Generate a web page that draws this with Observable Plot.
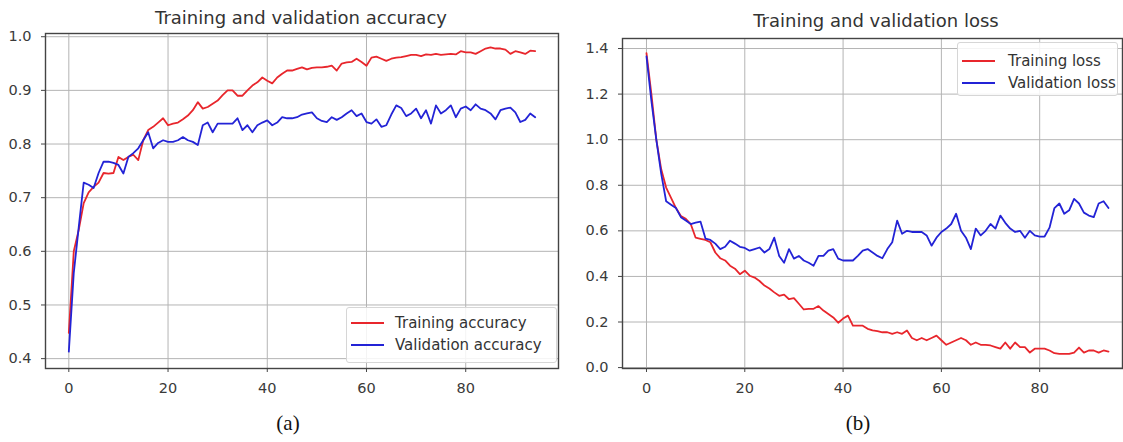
<!DOCTYPE html>
<html>
<head>
<meta charset="utf-8">
<script src="https://cdn.jsdelivr.net/npm/d3@7"></script>
<script src="https://cdn.jsdelivr.net/npm/@observablehq/plot@0.6"></script>
<style>
  html, body { margin: 0; padding: 0; background: #fff; overflow: hidden; }
  #wrap { position: relative; width: 1123px; height: 442px; font-family: "DejaVu Sans", sans-serif; color: #333; }
  .panel { position: absolute; top: 0; }
  .title { position: absolute; font-size: 18px; line-height: 18px; white-space: nowrap; transform: translateX(-50%); color: #333; }
  .caption { position: absolute; font-family: "Liberation Serif", "Times New Roman", serif; font-size: 21px; line-height: 21px; transform: translateX(-50%); color: #111; }
  .legend { position: absolute; background: rgba(255,255,255,0.85); border: 1px solid #d6d6d6; border-radius: 3px; box-sizing: border-box; }
  .legend .sw { position: absolute; height: 2px; }
  .legend .lab { position: absolute; transform: translateY(-50%); font-size: 15px; color: #333; white-space: nowrap; }
</style>
</head>
<body>
<div id="wrap"></div>
<script>
// ---- Data ----
const accTicksX = [0, 20, 40, 60, 80];
const accTicksY = [0.4, 0.5, 0.6, 0.7, 0.8, 0.9, 1.0];
const lossTicksY = [0.0, 0.2, 0.4, 0.6, 0.8, 1.0, 1.2, 1.4];

const trainingAccuracy = [
  0.448, 0.600, 0.640, 0.690, 0.710, 0.720, 0.728, 0.746, 0.745, 0.746,
  0.776, 0.770, 0.776, 0.780, 0.770, 0.807, 0.826, 0.832, 0.840, 0.848,
  0.835, 0.838, 0.840, 0.846, 0.853, 0.863, 0.878, 0.866, 0.869, 0.875,
  0.881, 0.891, 0.900, 0.900, 0.890, 0.890, 0.900, 0.909, 0.915, 0.924,
  0.918, 0.913, 0.924, 0.931, 0.937, 0.937, 0.940, 0.943, 0.939, 0.942,
  0.943, 0.943, 0.944, 0.946, 0.937, 0.950, 0.952, 0.953, 0.959, 0.953,
  0.946, 0.961, 0.963, 0.959, 0.955, 0.959, 0.961, 0.962, 0.964, 0.966,
  0.966, 0.964, 0.967, 0.966, 0.968, 0.966, 0.967, 0.968, 0.967, 0.973,
  0.971, 0.971, 0.968, 0.973, 0.978, 0.980, 0.978, 0.978, 0.976, 0.968,
  0.973, 0.971, 0.968, 0.974, 0.973
];
const validationAccuracy = [
  0.413, 0.560, 0.645, 0.728, 0.724, 0.718, 0.746, 0.767, 0.767, 0.765,
  0.761, 0.745, 0.776, 0.783, 0.792, 0.807, 0.822, 0.792, 0.802, 0.807,
  0.804, 0.804, 0.807, 0.813, 0.807, 0.804, 0.798, 0.835, 0.840, 0.822,
  0.838, 0.838, 0.838, 0.838, 0.848, 0.826, 0.835, 0.822, 0.835, 0.840,
  0.844, 0.835, 0.840, 0.850, 0.848, 0.848, 0.850, 0.855, 0.857, 0.859,
  0.848, 0.843, 0.841, 0.850, 0.845, 0.850, 0.857, 0.863, 0.852, 0.857,
  0.841, 0.838, 0.846, 0.832, 0.835, 0.855, 0.872, 0.867, 0.852, 0.857,
  0.866, 0.848, 0.863, 0.838, 0.872, 0.857, 0.863, 0.872, 0.850, 0.866,
  0.870, 0.863, 0.874, 0.866, 0.863, 0.857, 0.846, 0.863, 0.866, 0.868,
  0.859, 0.841, 0.845, 0.857, 0.850
];
const trainingLoss = [
  1.380, 1.200, 1.000, 0.870, 0.790, 0.745, 0.700, 0.665, 0.653, 0.630,
  0.570, 0.565, 0.560, 0.550, 0.505, 0.480, 0.470, 0.447, 0.434, 0.410,
  0.425, 0.403, 0.395, 0.380, 0.360, 0.347, 0.330, 0.315, 0.320, 0.300,
  0.305, 0.280, 0.255, 0.258, 0.258, 0.270, 0.250, 0.235, 0.220, 0.197,
  0.215, 0.228, 0.184, 0.184, 0.184, 0.170, 0.163, 0.160, 0.155, 0.155,
  0.148, 0.155, 0.148, 0.163, 0.130, 0.120, 0.130, 0.120, 0.130, 0.140,
  0.120, 0.100, 0.110, 0.120, 0.130, 0.120, 0.100, 0.110, 0.100, 0.100,
  0.097, 0.090, 0.083, 0.110, 0.083, 0.110, 0.090, 0.090, 0.066, 0.083,
  0.083, 0.083, 0.075, 0.063, 0.060, 0.060, 0.060, 0.066, 0.088, 0.066,
  0.075, 0.075, 0.066, 0.075, 0.070
];
const validationLoss = [
  1.365, 1.170, 1.000, 0.850, 0.730, 0.715, 0.700, 0.660, 0.645, 0.630,
  0.636, 0.640, 0.566, 0.560, 0.544, 0.520, 0.530, 0.557, 0.544, 0.530,
  0.525, 0.513, 0.520, 0.527, 0.505, 0.520, 0.570, 0.490, 0.460, 0.520,
  0.478, 0.490, 0.470, 0.460, 0.447, 0.490, 0.490, 0.513, 0.520, 0.478,
  0.470, 0.470, 0.470, 0.490, 0.513, 0.520, 0.505, 0.490, 0.480, 0.520,
  0.550, 0.645, 0.587, 0.600, 0.595, 0.595, 0.595, 0.580, 0.535, 0.570,
  0.595, 0.610, 0.630, 0.675, 0.600, 0.570, 0.520, 0.610, 0.580, 0.600,
  0.630, 0.610, 0.667, 0.635, 0.610, 0.595, 0.600, 0.570, 0.600, 0.580,
  0.575, 0.575, 0.614, 0.700, 0.720, 0.675, 0.690, 0.740, 0.720, 0.680,
  0.667, 0.660, 0.720, 0.730, 0.700
];

const RED = "#e8262c";
const BLUE = "#2323d6";
const GRID = "#b4b4b4";
const FRAME = "#444";
const TEXT = "#3a3a3a";

function makePanel({width, height, ml, mr, mt, mb, xDomain, yDomain, yTicks, series}) {
  return Plot.plot({
    width, height,
    marginLeft: ml, marginRight: mr, marginTop: mt, marginBottom: mb,
    style: {fontFamily: "DejaVu Sans, sans-serif", fontSize: "14.5px", color: TEXT, background: "transparent"},
    x: {domain: xDomain, ticks: accTicksX, label: null},
    y: {domain: yDomain, ticks: yTicks, label: null, tickFormat: d => d.toFixed(1)},
    marks: [
      Plot.gridX(accTicksX, {stroke: GRID, strokeOpacity: 1, strokeWidth: 1}),
      Plot.gridY(yTicks, {stroke: GRID, strokeOpacity: 1, strokeWidth: 1}),
      ...series.map(s => Plot.lineY(s.values, {stroke: s.color, strokeWidth: 1.8})),
      Plot.frame({stroke: FRAME, strokeWidth: 1.4}),
      Plot.axisX(accTicksX, {tickSize: 4, tickPadding: 10, stroke: FRAME, fill: TEXT}),
      Plot.axisY(yTicks, {tickSize: 4, tickPadding: 10, stroke: FRAME, fill: TEXT, tickFormat: d => d.toFixed(1)})
    ]
  });
}

const wrap = document.getElementById("wrap");

// Panel (a)
const pa = makePanel({
  width: 560, height: 400, ml: 45, mr: 2, mt: 33, mb: 32,
  xDomain: [-4.7, 98.7], yDomain: [0.3816, 1.006], yTicks: accTicksY,
  series: [{values: trainingAccuracy, color: RED}, {values: validationAccuracy, color: BLUE}]
});
pa.classList.add("panel"); pa.style.left = "0px";
wrap.appendChild(pa);

// Panel (b)
const pb = makePanel({
  width: 563, height: 400, ml: 62, mr: 1, mt: 38, mb: 32,
  xDomain: [-4.88, 96.85], yDomain: [-0.004, 1.444], yTicks: lossTicksY,
  series: [{values: trainingLoss, color: RED}, {values: validationLoss, color: BLUE}]
});
pb.classList.add("panel"); pb.style.left = "560px";
wrap.appendChild(pb);

function addText(cls, txt, x, y) {
  const d = document.createElement("div");
  d.className = cls; d.textContent = txt;
  d.style.left = x + "px"; d.style.top = y + "px";
  wrap.appendChild(d);
}
addText("title", "Training and validation accuracy", 301, 9);
addText("title", "Training and validation loss", 876, 12);
addText("caption", "(a)", 288, 413);
addText("caption", "(b)", 858, 413);

function addLegend(x, y, w, h, items, swX, swW, labX, rowYs) {
  const lg = document.createElement("div");
  lg.className = "legend";
  Object.assign(lg.style, {left: x + "px", top: y + "px", width: w + "px", height: h + "px"});
  items.forEach((it, i) => {
    const sw = document.createElement("div");
    sw.className = "sw";
    Object.assign(sw.style, {left: swX + "px", width: swW + "px", top: (rowYs[i] - 1) + "px", background: it.color});
    lg.appendChild(sw);
    const lab = document.createElement("div");
    lab.className = "lab";
    Object.assign(lab.style, {left: labX + "px", top: rowYs[i] + "px"});
    lab.textContent = it.label;
    lg.appendChild(lab);
  });
  wrap.appendChild(lg);
}
addLegend(346, 307, 211, 56,
  [{label: "Training accuracy", color: RED}, {label: "Validation accuracy", color: BLUE}],
  4, 33, 48, [15, 37]);
addLegend(957, 42, 161, 54,
  [{label: "Training loss", color: RED}, {label: "Validation loss", color: BLUE}],
  4, 33, 50, [18, 40]);
</script>
</body>
</html>
